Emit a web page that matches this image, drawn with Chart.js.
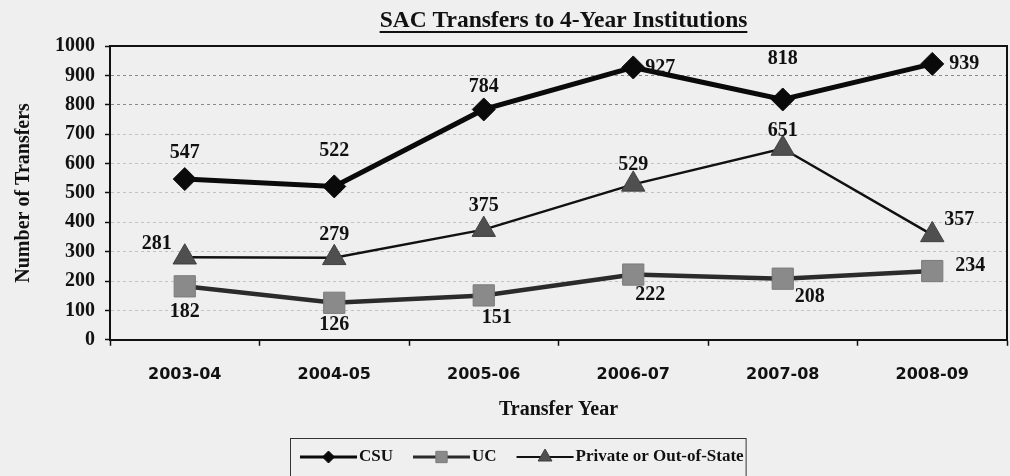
<!DOCTYPE html>
<html>
<head>
<meta charset="utf-8">
<script src="https://cdn.jsdelivr.net/npm/chart.js@4.4.1/dist/chart.umd.min.js"></script>
<style>
  html, body { margin: 0; padding: 0; background: #efefef; }
  #wrap { width: 1010px; height: 476px; }
</style>
</head>
<body>
<div id="wrap"><canvas id="chart" width="1010" height="476"></canvas></div>
<script>
const chartTitle = 'SAC Transfers to 4-Year Institutions';
const categories = ['2003-04', '2004-05', '2005-06', '2006-07', '2007-08', '2008-09'];
const csuValues = [547, 522, 784, 927, 818, 939];
const ucValues = [182, 126, 151, 222, 208, 234];
const privateValues = [281, 279, 375, 529, 651, 357];

// where each value label sits relative to its point (px)
const csuLabelOffsets = [[0, -26], [0, -36], [0, -23], [27, 0], [0, -41], [32, 0]];
const ucLabelOffsets = [[0, 25], [0, 22], [13, 22], [17, 20], [27, 18], [38, -5]];
const privateLabelOffsets = [[-28, -13], [0, -23], [0, -24], [0, -20], [0, -18], [27, -15]];

const serif = '"Liberation Serif", "DejaVu Serif", serif';
const sans = '"DejaVu Sans", sans-serif';

const valueLabels = {
  id: 'valueLabels',
  afterDatasetsDraw(chart) {
    const ctx = chart.ctx;
    ctx.save();
    ctx.font = `bold 20px ${serif}`;
    ctx.fillStyle = '#111';
    ctx.textAlign = 'center';
    ctx.textBaseline = 'middle';
    chart.data.datasets.forEach((ds, i) => {
      const meta = chart.getDatasetMeta(i);
      meta.data.forEach((pt, j) => {
        const off = ds.labelOffsets[j];
        ctx.fillText(String(ds.data[j]), pt.x + off[0], pt.y + off[1]);
      });
    });
    ctx.restore();
  }
};

// underlined title centred over the plot area
const plotTitle = {
  id: 'plotTitle',
  afterDraw(chart) {
    const { ctx, chartArea } = chart;
    const cx = (chartArea.left + chartArea.right) / 2 + 5;
    ctx.save();
    ctx.font = `bold 23.5px ${serif}`;
    ctx.fillStyle = '#111';
    ctx.textAlign = 'center';
    ctx.textBaseline = 'alphabetic';
    ctx.fillText(chartTitle, cx, 27);
    const w = ctx.measureText(chartTitle).width;
    ctx.strokeStyle = '#111';
    ctx.lineWidth = 2;
    ctx.beginPath();
    ctx.moveTo(cx - w / 2, 32);
    ctx.lineTo(cx + w / 2, 32);
    ctx.stroke();
    ctx.restore();
  }
};

const boxLegend = {
  id: 'boxLegend',
  afterDraw(chart) {
    const ctx = chart.ctx;
    ctx.save();
    ctx.font = `bold 17px ${serif}`;
    ctx.textBaseline = 'middle';
    const sample = 57;
    const gap = 20;
    const boxL = 290;
    const boxT = 438;
    const boxH = 40;
    let x = boxL + 10;
    const y = 457;
    chart.data.datasets.forEach(ds => {
      ctx.strokeStyle = ds.borderColor;
      ctx.lineWidth = ds.legendLineWidth;
      ctx.beginPath();
      ctx.moveTo(x, y);
      ctx.lineTo(x + sample, y);
      ctx.stroke();
      ctx.fillStyle = ds.pointBackgroundColor;
      ctx.strokeStyle = ds.pointBorderColor;
      ctx.lineWidth = 1;
      Chart.helpers.drawPoint(ctx, {
        pointStyle: ds.pointStyle,
        radius: ds.legendRadius,
        rotation: 0,
        borderWidth: 1
      }, x + sample / 2, y);
      ctx.fillStyle = '#111';
      ctx.fillText(ds.label, x + sample + 2, y);
      x += sample + 2 + ctx.measureText(ds.label).width + gap;
    });
    ctx.strokeStyle = '#333';
    ctx.lineWidth = 1;
    ctx.strokeRect(boxL + 0.5, boxT + 0.5, x - gap + 2 - boxL, boxH);
    ctx.restore();
  }
};

const plotFrame = {
  id: 'plotFrame',
  afterDraw(chart) {
    const { ctx, chartArea } = chart;
    ctx.save();
    ctx.strokeStyle = '#111';
    ctx.lineWidth = 2;
    ctx.beginPath();
    ctx.moveTo(chartArea.left, chartArea.top);
    ctx.lineTo(chartArea.right, chartArea.top);
    ctx.lineTo(chartArea.right, chartArea.bottom);
    ctx.stroke();
    ctx.restore();
  }
};

new Chart(document.getElementById('chart'), {
  type: 'line',
  data: {
    labels: categories,
    datasets: [
      {
        label: 'CSU',
        data: csuValues,
        labelOffsets: csuLabelOffsets,
        borderColor: '#0a0a0a',
        borderWidth: 5,
        pointStyle: 'rectRot',
        pointRadius: 11.5,
        pointBackgroundColor: '#0a0a0a',
        pointBorderColor: '#0a0a0a',
        pointBorderWidth: 1,
        legendLineWidth: 3,
        legendRadius: 6,
        tension: 0
      },
      {
        label: 'UC',
        data: ucValues,
        labelOffsets: ucLabelOffsets,
        borderColor: '#2b2b2b',
        borderWidth: 4.5,
        pointStyle: 'rect',
        pointRadius: 15,
        pointBackgroundColor: '#8a8a8a',
        pointBorderColor: '#7a7a7a',
        pointBorderWidth: 1,
        legendLineWidth: 3,
        legendRadius: 8,
        tension: 0
      },
      {
        label: 'Private or Out-of-State',
        data: privateValues,
        labelOffsets: privateLabelOffsets,
        borderColor: '#111',
        borderWidth: 2.5,
        pointStyle: 'triangle',
        pointRadius: 13.5,
        pointBackgroundColor: '#4f4f4f',
        pointBorderColor: '#3f3f3f',
        pointBorderWidth: 1,
        legendLineWidth: 2,
        legendRadius: 8,
        tension: 0
      }
    ]
  },
  options: {
    responsive: false,
    animation: false,
    layout: { autoPadding: false, padding: { left: 4, right: 3, top: 46, bottom: 54 } },
    plugins: {
      legend: { display: false },
      tooltip: { enabled: false },
      title: { display: false }
    },
    scales: {
      x: {
        offset: true,
        grid: { display: true, drawOnChartArea: false, offset: true, tickLength: 6, tickColor: '#111', tickWidth: 1.5 },
        border: { color: '#111', width: 2 },
        ticks: { color: '#111', font: { family: sans, size: 16, weight: 'bold' }, padding: 19, maxRotation: 0 },
        title: {
          display: true,
          text: 'Transfer Year',
          color: '#111',
          font: { family: serif, size: 20, weight: 'bold' },
          padding: { top: -5, bottom: 0 }
        }
      },
      y: {
        min: 0,
        max: 1000,
        ticks: {
          stepSize: 100,
          color: '#111',
          font: { family: serif, size: 20, weight: 'bold' },
          padding: 10,
          callback: (v) => String(v)
        },
        grid: {
          color: (c) => c.tick && (c.tick.value === 900 || c.tick.value === 800) ? '#8a8a8a' : '#c2c2c2',
          lineWidth: 1,
          tickLength: 5,
          tickColor: '#111',
          tickWidth: 1.5
        },
        border: { color: '#111', width: 2, dash: [3, 3], display: true },
        title: {
          display: true,
          text: 'Number of Transfers',
          color: '#111',
          font: { family: serif, size: 20, weight: 'bold' },
          padding: { top: 8, bottom: 9 }
        }
      }
    }
  },
  plugins: [valueLabels, plotTitle, boxLegend, plotFrame]
});
</script>
</body>
</html>
